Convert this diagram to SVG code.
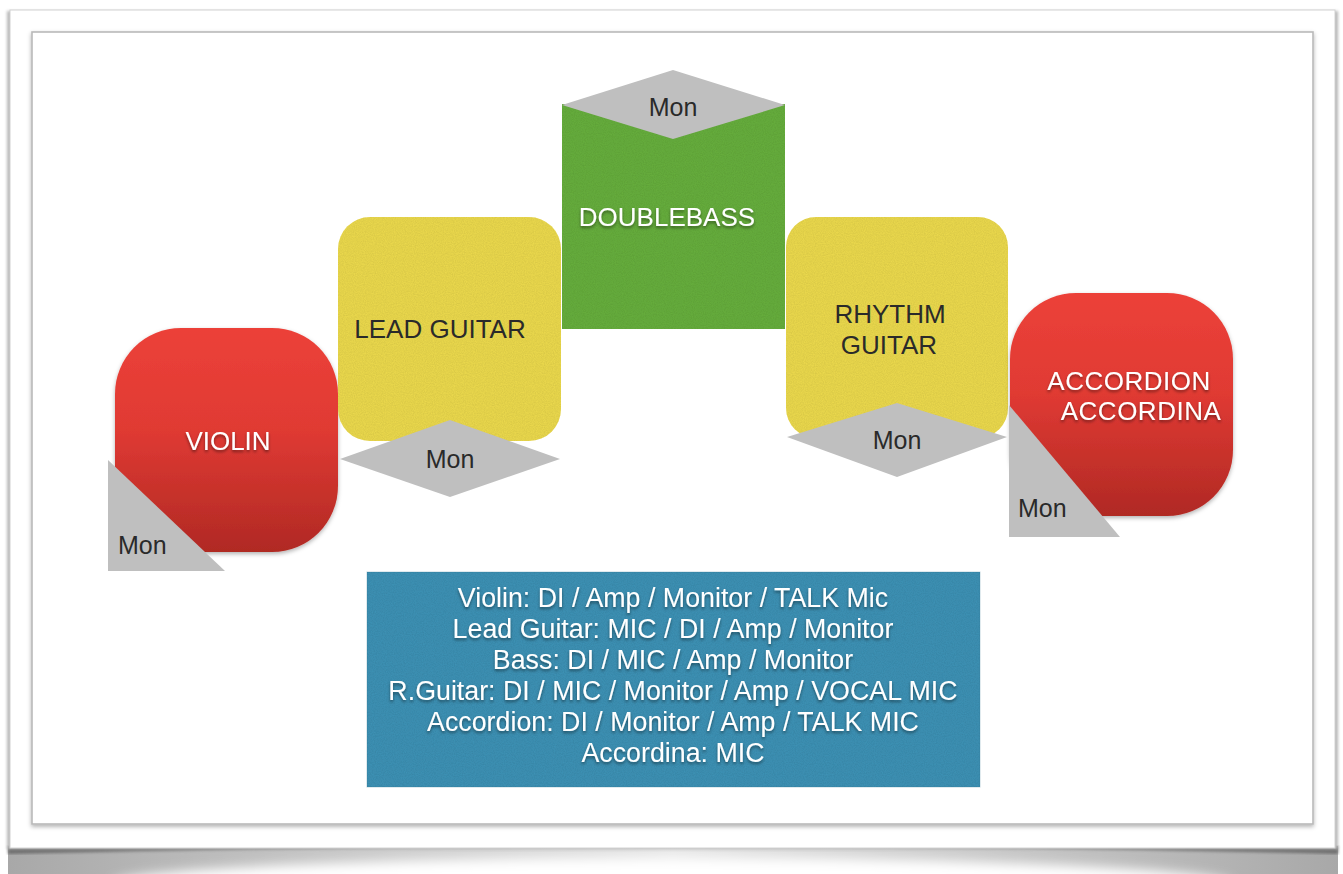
<svg xmlns="http://www.w3.org/2000/svg" width="1343" height="874" viewBox="0 0 1343 874">
<defs>
<style>
.lbl{font-family:"Liberation Sans",Arial,sans-serif;font-size:26px;text-anchor:middle}
.wt{fill:#ffffff;filter:url(#tsh)}
.dk{fill:#2a2a2a}
.mon{font-family:"Liberation Sans",Arial,sans-serif;font-size:25px;fill:#2a2a2a}
.gray{fill:#bfbfbf}
.info{font-family:"Liberation Sans",Arial,sans-serif;font-size:26.8px;fill:#ffffff;text-anchor:middle;filter:url(#tsh)}
</style>
<linearGradient id="red" x1="0" y1="0" x2="0" y2="1">
<stop offset="0" stop-color="#ec4139"/>
<stop offset="0.45" stop-color="#e03a33"/>
<stop offset="1" stop-color="#b02924"/>
</linearGradient>
<linearGradient id="curl" x1="0" y1="0" x2="1" y2="0">
<stop offset="0" stop-color="#a8a8a8"/>
<stop offset="0.5" stop-color="#e8e8e8"/>
<stop offset="1" stop-color="#a8a8a8"/>
</linearGradient>
<filter id="tsh" x="-10%" y="-30%" width="120%" height="170%">
<feDropShadow dx="0" dy="2" stdDeviation="1.5" flood-color="#000" flood-opacity="0.45"/>
</filter>
<filter id="nsh" x="-10%" y="-10%" width="120%" height="125%">
<feDropShadow dx="0" dy="2" stdDeviation="2" flood-color="#000" flood-opacity="0.3"/>
</filter>
<filter id="tex" x="0" y="0" width="100%" height="100%">
<feTurbulence type="fractalNoise" baseFrequency="0.9" numOctaves="2" seed="3" result="n"/>
<feColorMatrix in="n" type="matrix" values="0 0 0 0 0  0 0 0 0 0  0 0 0 0 0  0 0 0 0.22 -0.04" result="dn"/>
<feComposite in="dn" in2="SourceGraphic" operator="in" result="dm"/>
<feMerge><feMergeNode in="SourceGraphic"/><feMergeNode in="dm"/></feMerge>
</filter>
<filter id="blur6"><feGaussianBlur stdDeviation="6"/></filter>
<filter id="blur2"><feGaussianBlur stdDeviation="1.5"/></filter>
</defs>

<rect width="1343" height="874" fill="#ffffff"/>

<!-- page curl shadow -->
<g id="page-shadow">
<rect x="8" y="846" width="1330" height="28" fill="url(#curl)"/>
<path d="M8 846 L1338 846 L1338 854 Q672 838 8 854 Z" fill="#6e6e6e" filter="url(#blur2)"/>
<ellipse cx="672" cy="884" rx="560" ry="26" fill="#ffffff" filter="url(#blur6)"/>
</g>

<!-- outer card -->
<g id="card">
<rect x="7" y="11" width="1331" height="838" fill="#b8b8b8" filter="url(#blur2)"/>
<rect x="10" y="10" width="1325" height="838" fill="#ffffff" stroke="#d2d2d2" stroke-width="1"/>
<rect x="32" y="32" width="1281" height="792" fill="#ffffff" stroke="#b9b9b9" stroke-width="1.6" filter="url(#nsh)"/>
</g>

<g id="connectors"/>

<g id="violin">
<rect x="115" y="328" width="223" height="224" rx="66" ry="66" fill="url(#red)" filter="url(#nsh)"/>
<text class="lbl wt" x="228" y="450">VIOLIN</text>
<path class="gray" d="M108 460 L108 571 L225 571 Z"/>
<text class="mon" x="118" y="554">Mon</text>
</g>

<g id="lead-guitar">
<rect x="338" y="217" width="223" height="224" rx="32" ry="32" fill="#ead84e" filter="url(#tex)"/>
<text class="lbl dk" x="440" y="338">LEAD GUITAR</text>
<path class="gray" d="M340 459 L450 420 L560 459 L450 497 Z"/>
<text class="mon" x="450" y="468" text-anchor="middle">Mon</text>
</g>

<g id="doublebass">
<rect x="562" y="104" width="223" height="225" fill="#66ad3c" filter="url(#tex)"/>
<path class="gray" d="M562 105 L673 70 L785 105 L673 139 Z"/>
<text class="mon" x="673" y="116" text-anchor="middle">Mon</text>
<text class="lbl wt" x="667" y="226">DOUBLEBASS</text>
</g>

<g id="rhythm-guitar">
<rect x="786" y="217" width="222" height="221" rx="30" ry="30" fill="#ead84e" filter="url(#tex)"/>
<text class="lbl dk" x="890" y="323">RHYTHM</text>
<text class="lbl dk" x="889" y="354">GUITAR</text>
<path class="gray" d="M787 437 L897 403 L1007 437 L897 477 Z"/>
<text class="mon" x="897" y="449" text-anchor="middle">Mon</text>
</g>

<g id="accordion">
<rect x="1010" y="293" width="223" height="223" rx="66" ry="66" fill="url(#red)" filter="url(#nsh)"/>
<text class="lbl wt" x="1129" y="390" letter-spacing="0.5">ACCORDION</text>
<text class="lbl wt" x="1141" y="420" letter-spacing="0.5">ACCORDINA</text>
<path class="gray" d="M1009 405 L1009 537 L1120 537 Z"/>
<text class="mon" x="1018" y="517">Mon</text>
</g>

<g id="info">
<rect x="367" y="572" width="613" height="215" fill="#3e91b4" filter="url(#tex)"/>
<rect x="367" y="572" width="613" height="215" fill="none" stroke="#2f6f8a" stroke-opacity="0.3"/>
<text class="info" x="673" y="607">Violin: DI / Amp / Monitor / TALK Mic</text>
<text class="info" x="673" y="638">Lead Guitar: MIC / DI / Amp / Monitor</text>
<text class="info" x="673" y="669">Bass: DI / MIC / Amp / Monitor</text>
<text class="info" x="673" y="700">R.Guitar: DI / MIC / Monitor / Amp / VOCAL MIC</text>
<text class="info" x="673" y="731">Accordion: DI / Monitor / Amp / TALK MIC</text>
<text class="info" x="673" y="762">Accordina: MIC</text>
</g>
</svg>
